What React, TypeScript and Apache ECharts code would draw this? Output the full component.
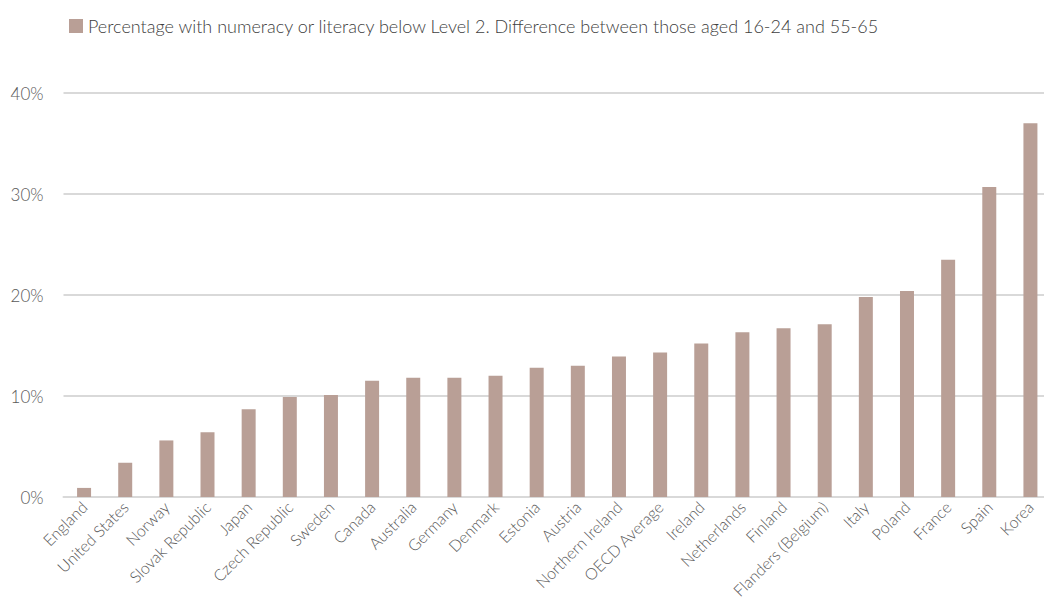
import React, { useEffect, useRef } from "react";
import * as echarts from "echarts";

const categories = [
  "England", "United States", "Norway", "Slovak Republic", "Japan", "Czech Republic",
  "Sweden", "Canada", "Australia", "Germany", "Denmark", "Estonia", "Austria",
  "Northern Ireland", "OECD Average", "Ireland", "Netherlands", "Finland",
  "Flanders (Belgium)", "Italy", "Poland", "France", "Spain", "Korea",
];
const values = [
  0.9, 3.4, 5.6, 6.4, 8.7, 9.9, 10.1, 11.5, 11.8, 11.8, 12.0, 12.8, 13.0,
  13.9, 14.3, 15.2, 16.3, 16.7, 17.1, 19.8, 20.4, 23.5, 30.7, 37.0,
];
const seriesName =
  "Percentage with numeracy or literacy below Level 2. Difference between those aged 16-24 and 55-65";

const FONT = "Lato, 'Open Sans', sans-serif";

export default function App() {
  const ref = useRef<HTMLDivElement>(null);
  useEffect(() => {
    const chart = echarts.init(ref.current!, null, { renderer: "svg" });
    chart.setOption({
      animation: false,
      textStyle: { fontFamily: FONT },
      legend: {
        left: 64,
        top: 12,
        itemWidth: 14,
        itemHeight: 14,
        itemGap: 10,
        icon: "rect",
        textStyle: { fontSize: 18, color: "#404040", fontFamily: FONT, fontWeight: 300 },
        data: [seriesName],
      },
      grid: {
        left: 63.5,
        right: 0,
        top: 93,
        bottom: 108,
        containLabel: false,
        outerBoundsMode: "none",
      },
      xAxis: {
        type: "category",
        data: categories,
        axisTick: { show: false },
        axisLine: { lineStyle: { color: "#d9d9d9", width: 2 } },
        axisLabel: {
          rotate: 45,
          interval: 0,
          margin: 7,
          fontSize: 16,
          color: "#595959",
          fontFamily: FONT,
          fontWeight: 300,
        },
      },
      yAxis: {
        type: "value",
        min: 0,
        max: 40,
        interval: 10,
        axisLine: { show: false },
        axisTick: { show: false },
        axisLabel: {
          formatter: "{value}%",
          fontSize: 17,
          color: "#595959",
          margin: 20,
          fontFamily: FONT,
          fontWeight: 300,
        },
        splitLine: { lineStyle: { color: "#d9d9d9", width: 2 } },
      },
      series: [
        {
          name: seriesName,
          type: "bar",
          data: values,
          barWidth: "34%",
          itemStyle: { color: "#b99f96" },
        },
      ],
    });
    return () => chart.dispose();
  }, []);
  return (
    <div
      style={{ position: "absolute", left: 0, top: 0, width: 1044, height: 605, overflow: "hidden", background: "#fff" }}
    >
      <div ref={ref} style={{ width: 1051, height: 605 }} />
    </div>
  );
}
